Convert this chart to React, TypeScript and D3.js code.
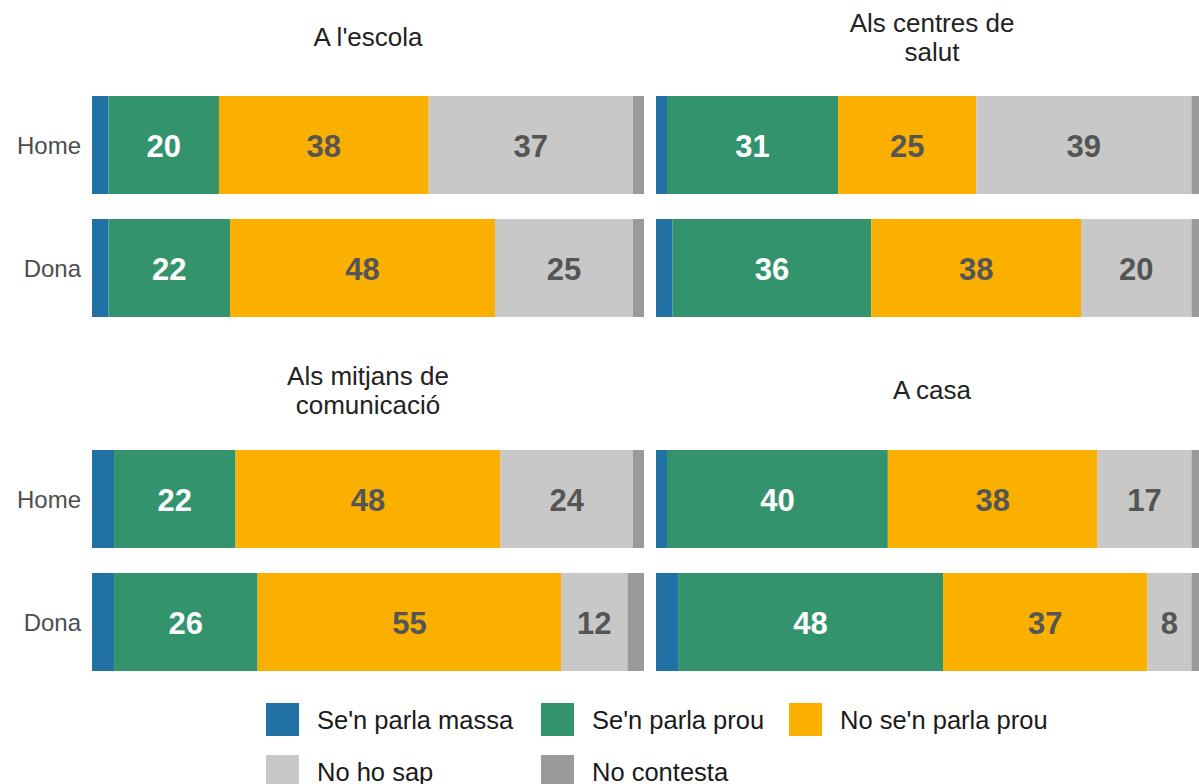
import * as d3 from 'd3';

const categories = ["Se'n parla massa", "Se'n parla prou", 'No se\'n parla prou', 'No ho sap', 'No contesta'];
const colors = ['#2271a5', '#33936d', '#fbb000', '#c8c8c8', '#9c9a98'];
const labelColors = ['#ffffff', '#ffffff', '#555555', '#555555', '#555555'];
const groups = ['Home', 'Dona'];

const panelTitles = [['A l\'escola'], ['Als centres de', 'salut'], ['Als mitjans de', 'comunicació'], ['A casa']];

const escolaHome = [3, 20, 38, 37, 2];
const escolaDona = [3, 22, 48, 25, 2];
const salutHome = [2, 31, 25, 39, 3];
const salutDona = [3, 36, 38, 20, 3];
const mitjansHome = [4, 22, 48, 24, 2];
const mitjansDona = [4, 26, 55, 12, 3];
const casaHome = [2, 40, 38, 17, 3];
const casaDona = [4, 48, 37, 8, 3];

const panelValues = [
  [escolaHome, escolaDona],
  [salutHome, salutDona],
  [mitjansHome, mitjansDona],
  [casaHome, casaDona],
];

const W = 1199;
const H = 784;
const font = '"Liberation Sans", Arial, sans-serif';

// panel geometry
const colX = [92, 656];
const panelW = 552;
const rowBand = [[96, 317], [450, 671]];
const titleCenter = [37, 390];

function Panel({ idx }: { idx: number }) {
  const col = idx % 2;
  const row = Math.floor(idx / 2);
  const x = d3.scaleLinear().domain([0, 100]).range([colX[col], colX[col] + panelW]);
  const y = d3.scaleBand<string>().domain(groups).range(rowBand[row]).paddingInner(25 / 123).paddingOuter(0);
  const title = panelTitles[idx];
  const lh = 29;
  const midX = colX[col] + panelW / 2;

  return (
    <g>
      {title.map((t, i) => (
        <text
          key={t}
          x={midX}
          y={titleCenter[row] + (i - (title.length - 1) / 2) * lh}
          textAnchor="middle"
          dominantBaseline="central"
          fontSize={26}
          fill="#222"
        >
          {t}
        </text>
      ))}
      {groups.map((g, gi) => {
        const vals = panelValues[idx][gi];
        const starts = d3.cumsum([0, ...vals]);
        const y0 = y(g) as number;
        const bh = y.bandwidth();
        return (
          <g key={g}>
            {col === 0 && (
              <text x={81} y={y0 + bh / 2} textAnchor="end" dominantBaseline="central" fontSize={24} fill="#4d4d4d">
                {g}
              </text>
            )}
            {vals.map((v, ci) => (
              <rect
                key={ci}
                x={x(starts[ci])}
                y={y0}
                width={x(starts[ci] + v) - x(starts[ci])}
                height={bh}
                fill={colors[ci]}
              />
            ))}
            {vals.map((v, ci) =>
              v >= 5 ? (
                <text
                  key={'l' + ci}
                  x={(x(starts[ci]) + x(starts[ci] + v)) / 2}
                  y={y0 + bh / 2 + 1}
                  textAnchor="middle"
                  dominantBaseline="central"
                  fontSize={31}
                  fontWeight="bold"
                  fill={labelColors[ci]}
                >
                  {v}
                </text>
              ) : null
            )}
          </g>
        );
      })}
    </g>
  );
}

const legendX = [266, 541, 789];
const legendY = [703, 755];

export default function App() {
  return (
    <svg
      width={W}
      height={H}
      style={{ position: 'absolute', left: 0, top: 0, background: '#fff' }}
      fontFamily={font}
    >
      <rect width={W} height={H} fill="#fff" />
      {panelValues.map((_, i) => (
        <Panel key={i} idx={i} />
      ))}
      {categories.map((c, i) => {
        const lx = legendX[i % 3];
        const ly = legendY[Math.floor(i / 3)];
        return (
          <g key={c}>
            <rect x={lx} y={ly} width={33} height={33} fill={colors[i]} />
            <text x={lx + 51} y={ly + 17} dominantBaseline="central" fontSize={25.5} fill="#1a1a1a">
              {c}
            </text>
          </g>
        );
      })}
    </svg>
  );
}
